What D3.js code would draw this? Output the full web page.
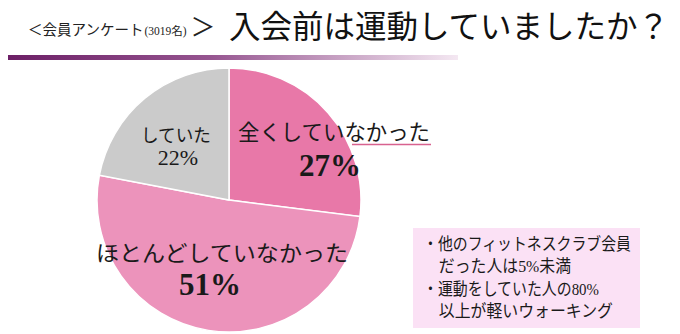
<!DOCTYPE html>
<html><head><meta charset="utf-8">
<script src="https://cdn.jsdelivr.net/npm/d3@7"></script>
<style>html,body{margin:0;padding:0;background:#fff;overflow:hidden}</style>
</head><body>
<svg id="c" width="680" height="334"></svg>
<script>
const categories = ["全くしていなかった", "ほとんどしていなかった", "していた"];
const values = [27, 51, 22];
const sliceColors = ["#e878a8", "#ec93bb", "#cbcbcb"];
const titleSmall = "＜会員アンケート";
const titleCount = "(3019名)";
const titleGt = "＞";
const titleMain = "入会前は運動していましたか？";
const notes = ["・他のフィットネスクラブ会員", "　だった人は5%未満", "・運動をしていた人の80%", "　以上が軽いウォーキング"];

const FONT = "'Liberation Serif','Noto Sans CJK JP',serif";
const svg = d3.select("#c");

// gradient bar
const defs = svg.append("defs");
const g = defs.append("linearGradient").attr("id","bar");
g.append("stop").attr("offset","0%").attr("stop-color","#6c1f66");
g.append("stop").attr("offset","45%").attr("stop-color","#965590");
g.append("stop").attr("offset","100%").attr("stop-color","#f4e8f2");
svg.append("rect").attr("x",8).attr("y",55).attr("width",450).attr("height",5).attr("fill","url(#bar)");

// title
const st = svg.append("text").attr("x",28).attr("y",35).attr("font-family",FONT).attr("fill","#222");
st.append("tspan").attr("font-size",14.5).text(titleSmall);
st.append("tspan").attr("font-size",11.5).attr("dx",1).text(titleCount);
st.append("tspan").attr("font-size",25).attr("dx",4).attr("dy",1).text(titleGt);
svg.append("text").attr("x",229).attr("y",38).attr("font-family",FONT).attr("font-size",32)
  .attr("fill","#111").text(titleMain).attr("textLength",440).attr("lengthAdjust","spacingAndGlyphs");

// pie
const cx = 229, cy = 200, r = 132;
const pie = d3.pie().sort(null).value(d => d)(values);
const arc = d3.arc().innerRadius(0).outerRadius(r);
const pg = svg.append("g").attr("transform",`translate(${cx},${cy})`);
pg.selectAll("path").data(pie).join("path")
  .attr("d",arc).attr("fill",(d,i)=>sliceColors[i])
  .attr("stroke","#fff").attr("stroke-width",1.5);

// labels
const labels = [
  {name:categories[0], x:334, y:140, fs:21.5, w:192},
  {name:categories[1], x:222, y:261, fs:22, w:252},
  {name:categories[2], x:176, y:142, fs:18.5, w:70}
];
labels.forEach(l => {
  svg.append("text").attr("x",l.x).attr("y",l.y).attr("text-anchor","middle")
    .attr("font-family",FONT).attr("font-size",l.fs).attr("fill","#1a1a1a")
    .attr("textLength",l.w).attr("lengthAdjust","spacingAndGlyphs").text(l.name);
});
// percentages
svg.append("text").attr("x",330).attr("y",176).attr("text-anchor","middle").attr("font-family",FONT)
  .attr("font-weight","bold").attr("font-size",31).attr("fill","#1a1a1a").text(values[0]+"%");
svg.append("text").attr("x",210).attr("y",295).attr("text-anchor","middle").attr("font-family",FONT)
  .attr("font-weight","bold").attr("font-size",31).attr("fill","#1a1a1a").text(values[1]+"%");
svg.append("text").attr("x",178).attr("y",165).attr("text-anchor","middle").attr("font-family",FONT)
  .attr("font-size",22).attr("fill","#1a1a1a").text(values[2]+"%");

// underline
svg.append("line").attr("x1",352).attr("x2",431).attr("y1",144.5).attr("y2",144.5)
  .attr("stroke","#d8628f").attr("stroke-width",1.5);

// note box
svg.append("rect").attr("x",413).attr("y",228).attr("width",227).attr("height",100).attr("fill","#fbe1f5");
const lens = [208, 148, 176, 190];
notes.forEach((t,i) => {
  svg.append("text").attr("x",423).attr("y",250 + i*22.3).attr("font-family",FONT)
    .attr("font-size",17).attr("fill","#1a1a1a")
    .attr("textLength",lens[i]).attr("lengthAdjust","spacingAndGlyphs").text(t);
});
</script>
</body></html>
